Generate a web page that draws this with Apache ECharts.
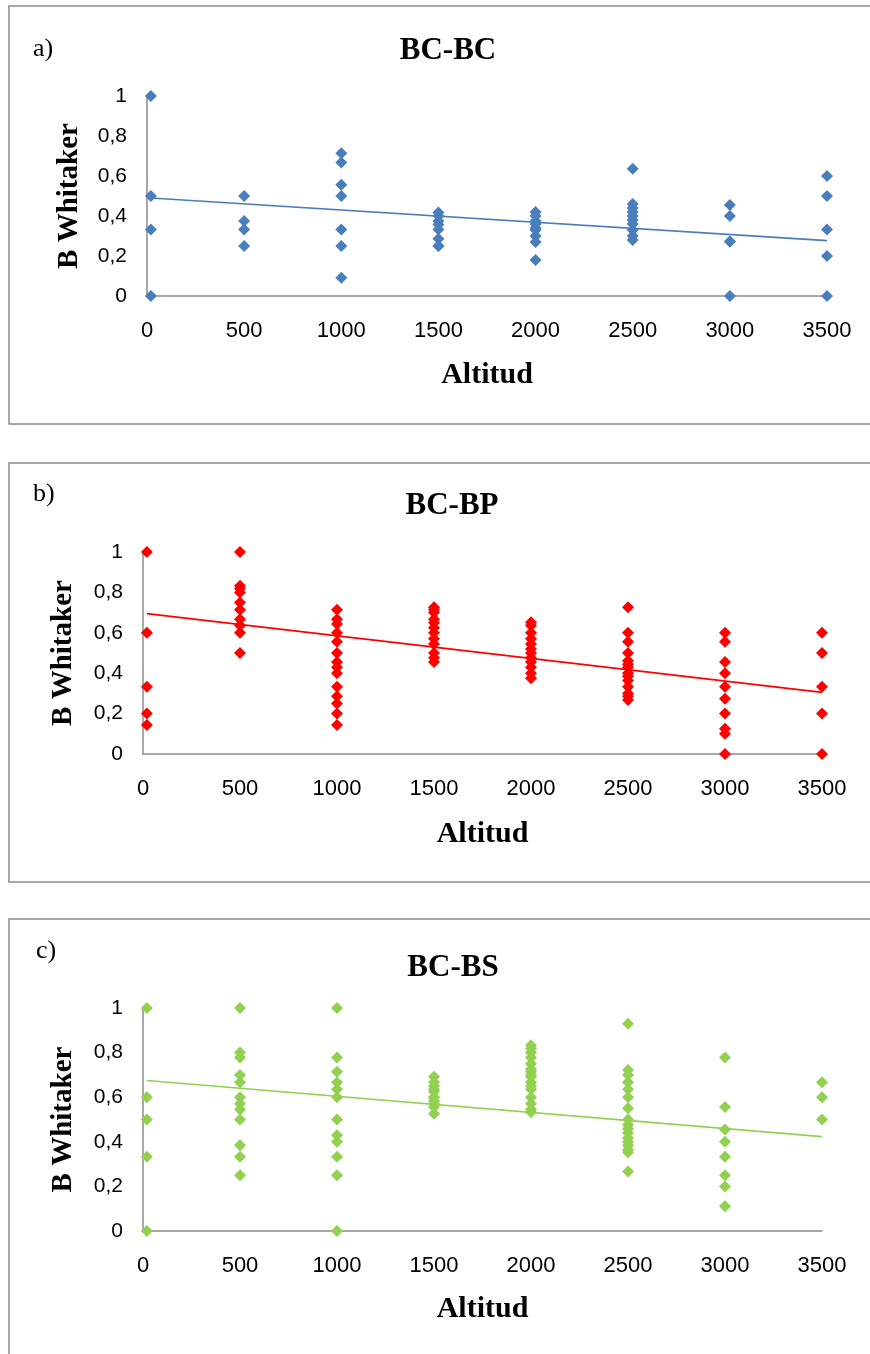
<!DOCTYPE html>
<html><head><meta charset="utf-8">
<script src="https://cdn.jsdelivr.net/npm/echarts@6/dist/echarts.min.js"></script>
<style>html,body{margin:0;padding:0;background:#fff}#c{width:870px;height:1354px}</style>
</head><body><div id="c"></div>
<script>
// Altitude categories (the "0" group is plotted slightly right of the axis, as in the original)
var altitudes = [20, 500, 1000, 1500, 2000, 2500, 3000, 3500];
var xTicks = [0, 500, 1000, 1500, 2000, 2500, 3000, 3500];
var yTicks = [0, 0.2, 0.4, 0.6, 0.8, 1];

// a) BC-BC : B Whitaker values per altitude group
var bcbc = [
  [1, 0.5, 0.333, 0],
  [0.5, 0.375, 0.333, 0.25],
  [0.714, 0.667, 0.556, 0.5, 0.333, 0.25, 0.091],
  [0.417, 0.4, 0.375, 0.357, 0.333, 0.286, 0.25, 0.25],
  [0.42, 0.4, 0.375, 0.36, 0.34, 0.33, 0.3, 0.27, 0.18],
  [0.636, 0.46, 0.44, 0.42, 0.4, 0.38, 0.36, 0.33, 0.3, 0.28],
  [0.455, 0.4, 0.273, 0.273, 0],
  [0.6, 0.5, 0.333, 0.2, 0]
];
var trendA = [[20, 0.49], [3500, 0.277]];

// b) BC-BP
var bcbp = [
  [1, 0.6, 0.333, 0.2, 0.143],
  [1, 0.833, 0.818, 0.8, 0.75, 0.714, 0.667, 0.636, 0.6, 0.5],
  [0.714, 0.667, 0.643, 0.6, 0.556, 0.5, 0.455, 0.429, 0.4, 0.333, 0.286, 0.25, 0.2, 0.143],
  [0.727, 0.714, 0.7, 0.667, 0.65, 0.625, 0.6, 0.571, 0.545, 0.5, 0.476, 0.455],
  [0.652, 0.636, 0.6, 0.571, 0.545, 0.52, 0.5, 0.476, 0.455, 0.429, 0.4, 0.375],
  [0.727, 0.6, 0.556, 0.5, 0.462, 0.444, 0.429, 0.4, 0.385, 0.364, 0.333, 0.3, 0.286, 0.267],
  [0.6, 0.556, 0.455, 0.4, 0.333, 0.273, 0.2, 0.125, 0.1, 0],
  [0.6, 0.5, 0.333, 0.2, 0]
];
var trendB = [[20, 0.695], [3500, 0.305]];

// c) BC-BS
var bcbs = [
  [1, 0.6, 0.5, 0.333, 0],
  [1, 0.8, 0.778, 0.7, 0.667, 0.6, 0.571, 0.545, 0.5, 0.385, 0.333, 0.25],
  [1, 0.778, 0.714, 0.667, 0.636, 0.6, 0.5, 0.429, 0.4, 0.333, 0.25, 0],
  [0.692, 0.667, 0.65, 0.636, 0.625, 0.6, 0.6, 0.583, 0.571, 0.556, 0.526],
  [0.833, 0.818, 0.8, 0.778, 0.75, 0.727, 0.714, 0.7, 0.692, 0.667, 0.65, 0.636, 0.6, 0.571, 0.545, 0.533],
  [0.929, 0.722, 0.7, 0.667, 0.636, 0.6, 0.55, 0.5, 0.476, 0.458, 0.44, 0.417, 0.4, 0.385, 0.364, 0.353, 0.267],
  [0.778, 0.556, 0.455, 0.4, 0.333, 0.25, 0.2, 0.111],
  [0.667, 0.6, 0.5]
];
var trendC = [[20, 0.675], [3500, 0.423]];

var panelTitles = ['BC-BC', 'BC-BP', 'BC-BS'];
var panelLetters = ['a)', 'b)', 'c)'];
var colors = ['#4A7EBB', '#FF0000', '#92D050'];

function toPoints(groups) {
  var pts = [];
  groups.forEach(function (g, i) { g.forEach(function (v) { pts.push([altitudes[i], v]); }); });
  return pts;
}

var grids = [
  {left: 147, right: 43, top: 96, height: 200},
  {left: 143, right: 48, top: 552, height: 202},
  {left: 143, right: 48, top: 1008, height: 223}
];
var titleTops = [30, 485, 947];
var titleX = [443, 447, 448];
var letterPos = [[33, 36], [33, 481], [36, 938]];
var nameGaps = [64, 65, 63];
var datasets = [bcbc, bcbp, bcbs];
var trends = [trendA, trendB, trendC];

var serif = '"Liberation Serif", "DejaVu Serif", serif';
var sans = '"Liberation Sans", sans-serif';
var axisColor = '#8C8C8C';

var option = {
  animation: false,
  backgroundColor: '#fff',
  grid: grids,
  title: grids.map(function (g, i) {
    return {text: panelTitles[i], left: titleX[i], top: titleTops[i], textAlign: 'center',
      textStyle: {fontFamily: serif, fontWeight: 'bold', fontSize: 31, color: '#000'}};
  }),
  xAxis: grids.map(function (g, i) {
    return {type: 'value', gridIndex: i, min: 0, max: 3500, interval: 500,
      name: 'Altitud', nameLocation: 'middle', nameGap: nameGaps[i],
      nameTextStyle: {fontFamily: serif, fontWeight: 'bold', fontSize: 30, color: '#000'},
      axisLine: {show: true, lineStyle: {color: axisColor, width: 1.5}},
      axisTick: {show: false}, splitLine: {show: false},
      axisLabel: {margin: 24, fontFamily: sans, fontSize: 22, color: '#000',
        formatter: function (v) { return String(v); }}};
  }),
  yAxis: grids.map(function (g, i) {
    return {type: 'value', gridIndex: i, min: 0, max: 1, interval: 0.2,
      name: 'B Whitaker', nameLocation: 'middle', nameGap: i === 0 ? 63 : 65, nameRotate: 90,
      nameTextStyle: {fontFamily: serif, fontWeight: 'bold', fontSize: 29, color: '#000'},
      axisLine: {show: true, lineStyle: {color: axisColor, width: 1.5}},
      axisTick: {show: false}, splitLine: {show: false},
      axisLabel: {margin: 20, fontFamily: sans, fontSize: 21, color: '#000',
        formatter: function (v) { return String(Math.round(v * 10) / 10).replace('.', ','); }}};
  }),
  series: [],
  graphic: [
    {type: 'rect', shape: {x: 9, y: 6, width: 870, height: 418}, style: {fill: 'none', stroke: '#8C8C8C', lineWidth: 1.5}, z: -1},
    {type: 'rect', shape: {x: 9, y: 463, width: 870, height: 419}, style: {fill: 'none', stroke: '#8C8C8C', lineWidth: 1.5}, z: -1},
    {type: 'rect', shape: {x: 9, y: 919, width: 870, height: 460}, style: {fill: 'none', stroke: '#8C8C8C', lineWidth: 1.5}, z: -1}
  ].concat(panelLetters.map(function (t, i) {
    return {type: 'text', left: letterPos[i][0], top: letterPos[i][1],
      style: {text: t, font: '26px ' + serif, fill: '#000'}};
  }))
};

datasets.forEach(function (ds, i) {
  option.series.push({type: 'line', xAxisIndex: i, yAxisIndex: i, data: trends[i],
    symbol: 'none', lineStyle: {color: colors[i], width: 1.6}, z: 2, silent: true});
  option.series.push({type: 'scatter', xAxisIndex: i, yAxisIndex: i, data: toPoints(ds),
    symbol: 'diamond', symbolSize: 12, itemStyle: {color: colors[i], opacity: 1}, z: 3});
});

var chart = echarts.init(document.getElementById('c'), null, {renderer: 'canvas'});
chart.setOption(option);
</script>
</body></html>
